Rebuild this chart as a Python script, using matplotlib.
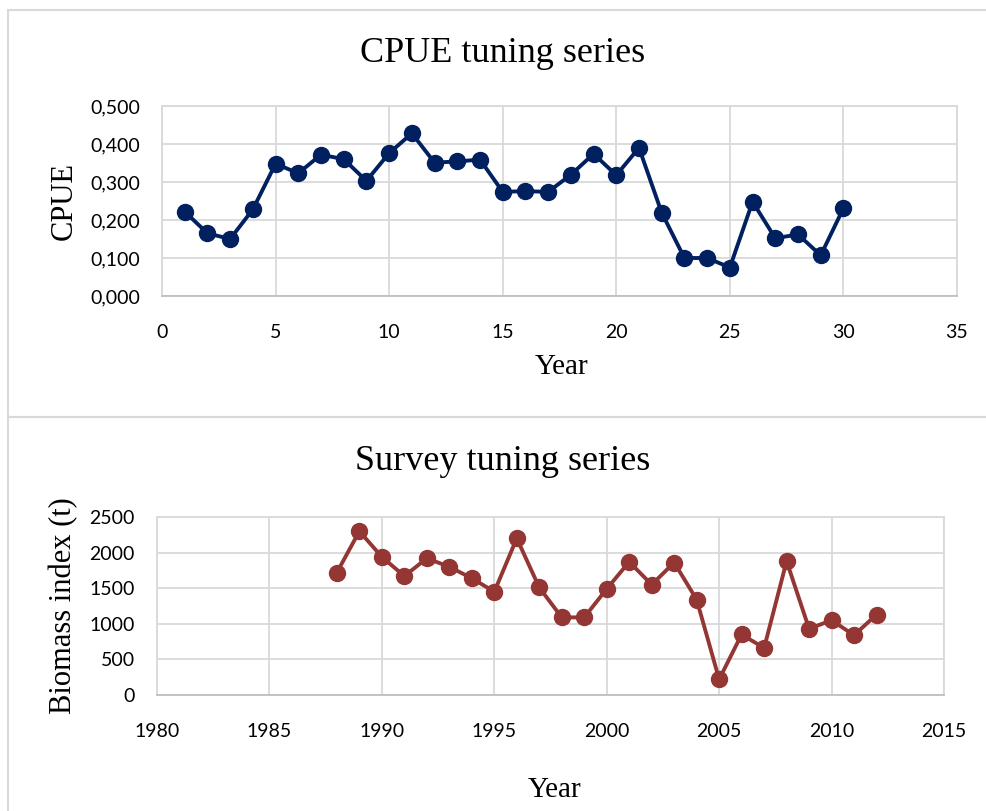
import matplotlib.pyplot as plt
from matplotlib.ticker import FuncFormatter, MultipleLocator
from matplotlib.patches import Rectangle

# CPUE tuning series (year index 1..30)
cpue_year = list(range(1, 31))
cpue = [0.222, 0.165, 0.150, 0.228, 0.348, 0.323, 0.372, 0.360, 0.303, 0.376,
        0.428, 0.351, 0.354, 0.359, 0.274, 0.276, 0.274, 0.319, 0.374, 0.318,
        0.390, 0.219, 0.100, 0.100, 0.075, 0.248, 0.152, 0.162, 0.107, 0.231]

# Survey tuning series
survey_year = list(range(1988, 2013))
biomass = [1720, 2300, 1940, 1670, 1920, 1800, 1640, 1450, 2200, 1510,
           1090, 1090, 1490, 1870, 1550, 1860, 1340, 220, 850, 660,
           1880, 930, 1050, 840, 1130]

navy = '#002060'
darkred = '#943634'
grid_c = '#d9d9d9'
serif = 'Liberation Serif'
sans = 'Lato'

fig = plt.figure(figsize=(9.87, 8.11), dpi=100)

# panel frames (like two pasted Excel charts)
for y0, h in [(1 - 417 / 811, 407 / 811), (-0.01, 1 - 417 / 811 + 0.01)]:
    fig.patches.append(Rectangle((8 / 987, y0), 1.0, h, transform=fig.transFigure,
                                 fill=False, edgecolor=grid_c, linewidth=1.5))


def style_axes(ax):
    ax.grid(True, color=grid_c, linewidth=1.3)
    ax.set_axisbelow(True)
    for s in ax.spines.values():
        s.set_color(grid_c)
        s.set_linewidth(1.3)
    ax.spines['bottom'].set_color('#bfbfbf')
    ax.tick_params(length=0, labelsize=14)
    ax.tick_params(axis='x', pad=20)
    ax.tick_params(axis='y', pad=16)
    for lab in ax.get_xticklabels() + ax.get_yticklabels():
        lab.set_fontfamily(sans)


ax1 = fig.add_axes([162 / 987, 1 - 296 / 811, (957 - 162) / 987, (296 - 106) / 811])
ax1.plot(cpue_year, cpue, color=navy, linewidth=2.8, marker='o', markersize=11.5)
ax1.set_xlim(0, 35)
ax1.set_ylim(0, 0.5)
ax1.xaxis.set_major_locator(MultipleLocator(5))
ax1.yaxis.set_major_locator(MultipleLocator(0.1))
ax1.yaxis.set_major_formatter(FuncFormatter(lambda v, p: f'{v:.3f}'.replace('.', ',')))
style_axes(ax1)
ax1.set_ylabel('CPUE', fontfamily=serif, fontsize=22, labelpad=8)
fig.text(562 / 987, 1 - 367 / 811, 'Year', fontfamily=serif, fontsize=21,
         ha='center', va='center')
fig.text(503 / 987, 1 - 53 / 811, 'CPUE tuning series', fontfamily=serif, fontsize=26,
         ha='center', va='center')

ax2 = fig.add_axes([157 / 987, 1 - 695 / 811, (944 - 157) / 987, (695 - 517) / 811])
ax2.plot(survey_year, biomass, color=darkred, linewidth=2.8, marker='o', markersize=11.5)
ax2.set_xlim(1980, 2015)
ax2.set_ylim(0, 2500)
ax2.xaxis.set_major_locator(MultipleLocator(5))
ax2.yaxis.set_major_locator(MultipleLocator(500))
style_axes(ax2)
ax2.set_ylabel('Biomass index (t)', fontfamily=serif, fontsize=22, labelpad=8)
fig.text(555 / 987, 1 - 790 / 811, 'Year', fontfamily=serif, fontsize=21,
         ha='center', va='center')
fig.text(503 / 987, 1 - 462 / 811, 'Survey tuning series', fontfamily=serif, fontsize=26,
         ha='center', va='center')

fig.savefig('out.png', dpi=100)
